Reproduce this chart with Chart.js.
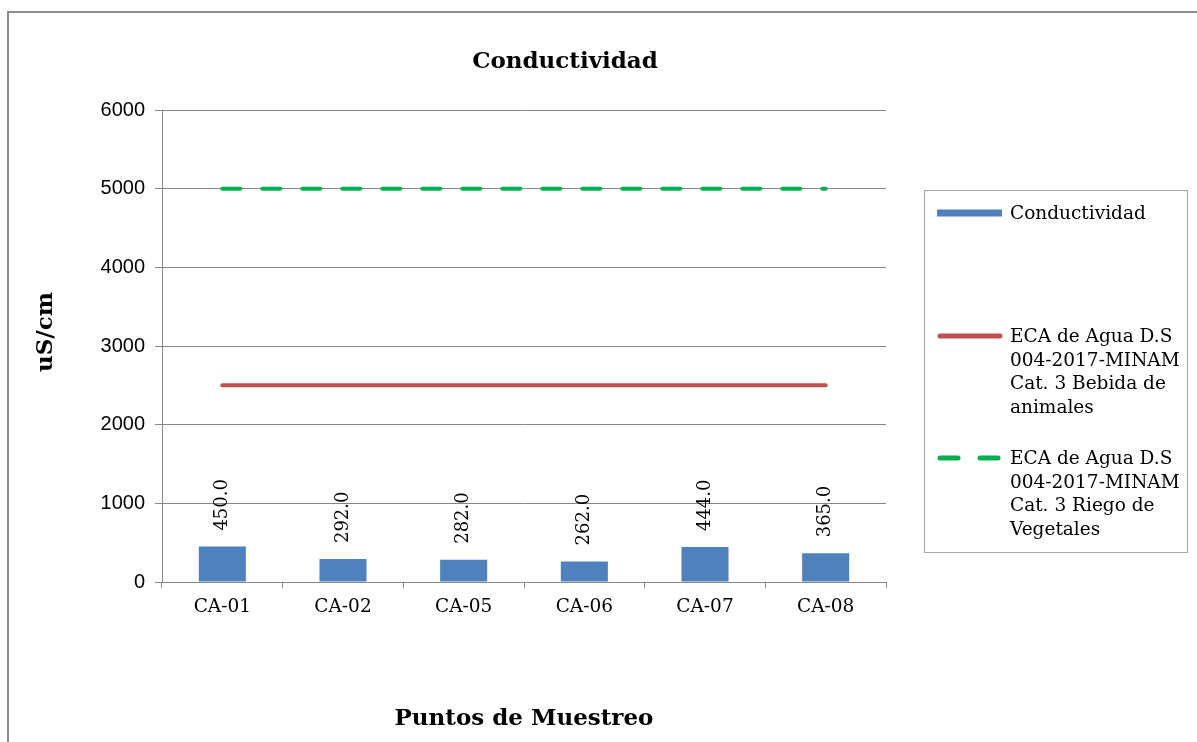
<!DOCTYPE html>
<html>
<head>
<meta charset="utf-8">
<title>Conductividad</title>
<script src="https://cdn.jsdelivr.net/npm/chart.js@4.4.1/dist/chart.umd.min.js"></script>
<style>
  html, body { margin: 0; padding: 0; background: #fff; overflow: hidden; }
  #marco {
    position: absolute; left: 7px; top: 11px;
    width: 1300px; height: 900px;
    border: 2px solid #8c8c8c; box-sizing: border-box;
  }
  #grafico { position: absolute; left: 0; top: 0; }
</style>
</head>
<body>
<div id="marco"></div>
<canvas id="grafico" width="1197" height="742"></canvas>
<script>
// Datos de los puntos de muestreo
const puntos = ['CA-01', 'CA-02', 'CA-05', 'CA-06', 'CA-07', 'CA-08'];
const conductividad = [450.0, 292.0, 282.0, 262.0, 444.0, 365.0];
const ecaBebida = [2500, 2500, 2500, 2500, 2500, 2500];
const ecaRiego = [5000, 5000, 5000, 5000, 5000, 5000];
const marcasY = [0, 1000, 2000, 3000, 4000, 5000, 6000];

const nombres = [
  ['Conductividad'],
  ['ECA de Agua D.S', '004-2017-MINAM', 'Cat. 3 Bebida de', 'animales'],
  ['ECA de Agua D.S', '004-2017-MINAM', 'Cat. 3 Riego de', 'Vegetales']
];

const SERIF = '"DejaVu Serif", "Liberation Serif", serif';
const GRIS = '#868686';

// valores encima de cada barra, girados
const etiquetas = {
  id: 'etiquetas',
  afterDatasetsDraw(chart) {
    const ctx = chart.ctx;
    const meta = chart.getDatasetMeta(0);
    ctx.save();
    ctx.font = '18px ' + SERIF;
    ctx.fillStyle = '#000';
    ctx.textAlign = 'left';
    ctx.textBaseline = 'middle';
    meta.data.forEach((barra, i) => {
      ctx.save();
      ctx.translate(barra.x, barra.y - 16);
      ctx.rotate(-Math.PI / 2);
      ctx.fillText(conductividad[i].toFixed(1), 0, 0);
      ctx.restore();
    });
    ctx.restore();
  }
};

// titulo, titulo del eje Y y leyenda con recuadro
const textos = {
  id: 'textos',
  afterDraw(chart) {
    const ctx = chart.ctx;
    ctx.save();
    ctx.fillStyle = '#000';
    ctx.textAlign = 'center';
    ctx.textBaseline = 'middle';
    ctx.font = 'bold 23px ' + SERIF;
    ctx.fillText('Conductividad', 565, 62);

    ctx.save();
    ctx.translate(46, 332);
    ctx.rotate(-Math.PI / 2);
    ctx.font = 'bold 23px ' + SERIF;
    ctx.fillText('uS/cm', 0, 0);
    ctx.restore();

    // leyenda
    ctx.strokeStyle = '#a6a6a6';
    ctx.lineWidth = 1;
    ctx.strokeRect(924.5, 190.5, 263, 362);

    const filas = [213, 336, 458];
    ctx.textAlign = 'left';
    ctx.font = '18.5px ' + SERIF;
    chart.data.datasets.forEach((ds, i) => {
      const y = filas[i];
      ctx.save();
      ctx.strokeStyle = ds.borderColor || ds.backgroundColor;
      if (ds.type === 'line') {
        ctx.lineWidth = 5;
        ctx.lineCap = 'round';
        ctx.setLineDash(ds.borderDash || []);
        ctx.beginPath();
        ctx.moveTo(940, y);
        ctx.lineTo(1000, y);
        ctx.stroke();
      } else {
        ctx.lineWidth = 7;
        ctx.beginPath();
        ctx.moveTo(937, y);
        ctx.lineTo(1002, y);
        ctx.stroke();
      }
      ctx.restore();
      nombres[i].forEach((linea, k) => {
        ctx.fillText(linea, 1010, y + 1 + k * 23.7);
      });
    });
    ctx.restore();
  }
};

new Chart(document.getElementById('grafico'), {
  type: 'bar',
  data: {
    labels: puntos,
    datasets: [
      {
        label: nombres[0].join(' '),
        data: conductividad,
        backgroundColor: '#4f81bd',
        barPercentage: 0.39,
        categoryPercentage: 1.0,
        order: 3
      },
      {
        type: 'line',
        label: nombres[1].join(' '),
        data: ecaBebida,
        borderColor: '#c0504d',
        borderWidth: 4,
        borderCapStyle: 'round',
        pointRadius: 0,
        fill: false,
        order: 2
      },
      {
        type: 'line',
        label: nombres[2].join(' '),
        data: ecaRiego,
        borderColor: '#00b050',
        borderWidth: 4,
        borderCapStyle: 'round',
        borderDash: [18, 22],
        pointRadius: 0,
        fill: false,
        order: 1
      }
    ]
  },
  options: {
    responsive: false,
    animation: false,
    events: [],
    layout: { padding: { top: 110, right: 311, bottom: 9, left: 0 } },
    plugins: {
      legend: { display: false },
      title: { display: false },
      tooltip: { enabled: false }
    },
    scales: {
      x: {
        grid: { drawOnChartArea: false, drawTicks: true, tickLength: 6, color: GRIS, offset: true },
        border: { display: true, color: GRIS, width: 1 },
        ticks: { font: { family: SERIF, size: 18.5 }, color: '#000', padding: 8, maxRotation: 0 },
        title: {
          display: true,
          text: 'Puntos de Muestreo',
          font: { family: SERIF, size: 23, weight: 'bold' },
          color: '#000',
          padding: { top: 4, bottom: 0 }
        },
        afterFit(scale) { scale.height = 151; }
      },
      y: {
        min: 0,
        max: 6000,
        afterBuildTicks(axis) { axis.ticks = marcasY.map(v => ({ value: v })); },
        ticks: {
          font: { family: '"Liberation Sans", Arial, sans-serif', size: 20 },
          color: '#000',
          padding: 10,
          callback: v => String(v)
        },
        grid: { color: GRIS, tickLength: 7 },
        border: { display: true, color: GRIS, width: 1 },
        afterFit(scale) { scale.width = 162; }
      }
    }
  },
  plugins: [etiquetas, textos]
});
</script>
</body>
</html>
